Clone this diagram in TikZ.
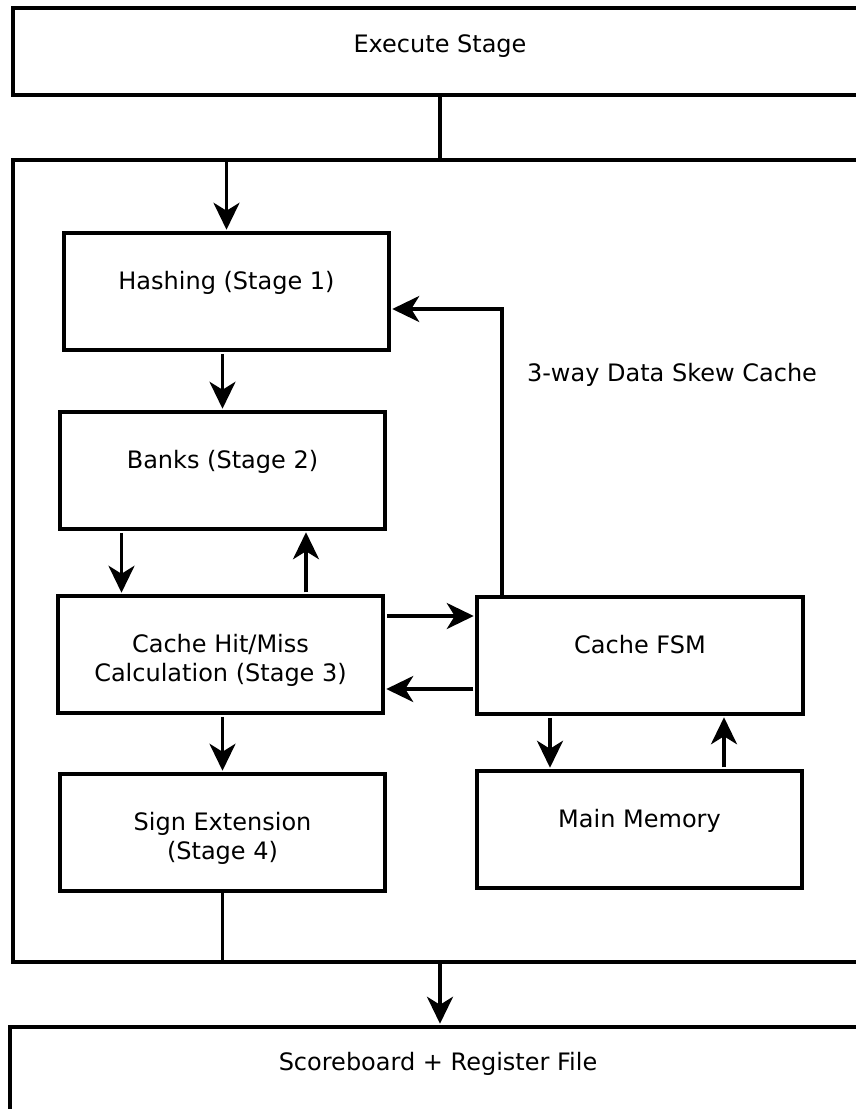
\documentclass[tikz,border=0pt]{standalone}
\usepackage{fontspec}
\setmainfont{DejaVu Sans}
\usetikzlibrary{arrows.meta}
\begin{document}
\begin{tikzpicture}[x=1pt,y=-1pt,
  box/.style={draw, line width=3.5pt, minimum width=325pt, minimum height=117pt, inner sep=0pt},
  frame/.style={draw, line width=3.5pt, inner sep=0pt},
  txt/.style={anchor=base, align=center, inner sep=0pt, font=\fontsize{24}{29}\selectfont},
  arr/.style={line width=3.5pt, -{Stealth[length=27pt,width=26pt,inset=8pt]}, shorten >=1.5pt},
  conn/.style={line width=3.5pt}]
\fill[white] (0,0) rectangle (856,1109);
\useasboundingbox (0,0) rectangle (856,1109);

% outer frames
\node[frame, minimum width=857pt, minimum height=87pt] (exec) at (441.5,51.5) {};
\node[txt] at (440,52) {Execute Stage};
\node[frame, minimum width=857pt, minimum height=802pt] (cache) at (441.5,561) {};
\node[txt] at (672,381) {3-way Data Skew Cache};
\node[frame, minimum width=860pt, minimum height=87pt] (score) at (440,1070.5) {};
\node[txt] at (438,1070) {Scoreboard + Register File};

% inner boxes
\node[box] (hash) at (226.5,291.5) {};
\node[txt] at ([yshift=-58.5pt]hash.north) {Hashing (Stage 1)};
\node[box] (banks) at (222.5,470.5) {};
\node[txt] at ([yshift=-58.5pt]banks.north) {Banks (Stage 2)};
\node[box] (hit) at (220.5,654.5) {};
\node[txt] at ([yshift=-87.5pt]hit.north) {Cache Hit/Miss\\Calculation (Stage 3)};
\node[box] (sign) at (222.5,832.5) {};
\node[txt] at ([yshift=-87.5pt]sign.north) {Sign Extension\\(Stage 4)};
\node[box, minimum width=326pt] (fsm) at (640,655.5) {};
\node[txt] at ([yshift=-58.5pt]fsm.north) {Cache FSM};
\node[box] (mem) at (639.5,829.5) {};
\node[txt] at ([yshift=-58.5pt]mem.north) {Main Memory};

% connectors
\coordinate (ej) at (440,160);
\draw[arr] (exec.south -| ej) -- (ej) -| (hash.north);
\draw[arr, shorten <=2pt] (hash.south -| banks.north) -- (banks.north);
\draw[arr, shorten <=2pt] ([xshift=-101pt]banks.south) -- ([xshift=-101pt]banks.south |- hit.north);
\draw[arr, shorten <=2pt] ([xshift=85.5pt]hit.north) -- ([xshift=85.5pt]hit.north |- banks.south);
\draw[arr, shorten <=2pt] ([yshift=38.5pt]hit.east) -- ([yshift=38.5pt]hit.east -| fsm.west);
\draw[arr, shorten <=2pt] ([yshift=-33.5pt]fsm.west) -- ([yshift=-33.5pt]fsm.west -| hit.east);
\coordinate (fb) at (502,309);
\draw[arr] (fsm.north -| fb) -- (fb) -- (fb -| hash.east);
\draw[arr, shorten <=2pt] (hit.south -| sign.north) -- (sign.north);
\draw[arr, shorten <=2pt] ([xshift=-90pt]fsm.south) -- ([xshift=-90pt]fsm.south |- mem.north);
\draw[arr, shorten <=2pt] ([xshift=84.5pt]mem.north) -- ([xshift=84.5pt]mem.north |- fsm.south);
\coordinate (sj) at (440,962);
\draw[arr] (sign.south) -- (sign.south |- sj) -- (sj) -- (score.north -| sj);
\end{tikzpicture}
\end{document}
